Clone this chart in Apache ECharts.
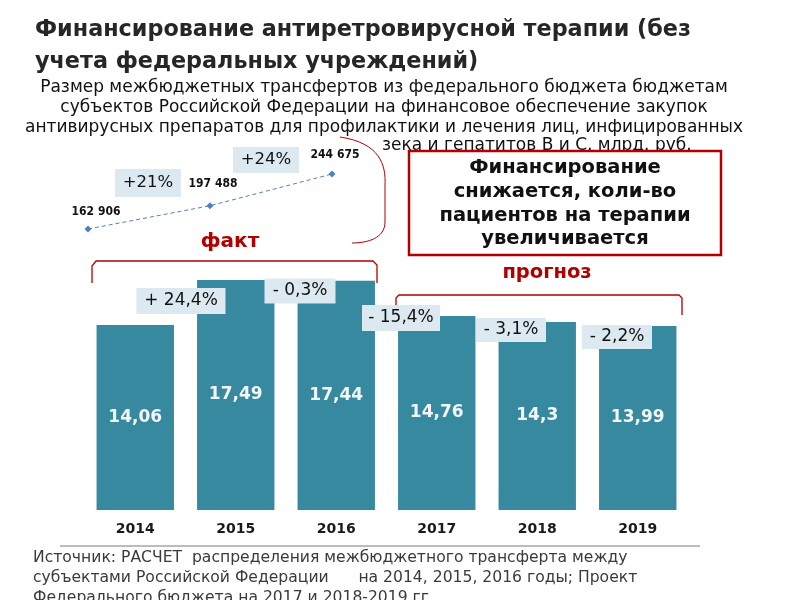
<!DOCTYPE html>
<html>
<head>
<meta charset="utf-8">
<script src="https://cdn.jsdelivr.net/npm/echarts@6/dist/echarts.min.js"></script>
<style>
  html, body { margin: 0; padding: 0; background: #fff; }
  #main { width: 800px; height: 600px; }
</style>
</head>
<body>
<div id="main"></div>
<script>
// data
var years = ['2014', '2015', '2016', '2017', '2018', '2019'];
var funding = [14.06, 17.49, 17.44, 14.76, 14.3, 13.99]; // млрд. руб.
var changeLabels = ['+ 24,4%', '- 0,3%', '- 15,4%', '- 3,1%', '- 2,2%'];
var patientYears = ['2014', '2015', '2016'];
var patients = [162906, 197488, 244675];
var patientGrowth = ['+21%', '+24%'];

var chart = echarts.init(document.getElementById('main'));

var RED = '#b00000';
var BOX = '#dce9f1';

function comma(v) {
  return String(v).replace('.', ',');
}
function spaced(v) {
  return String(v).replace(/\B(?=(\d{3})+(?!\d))/g, ' ');
}

// small blue boxes with the % change
function box(cx, cy, w, h, txt, size) {
  return {
    type: 'group', z: 100,
    children: [
      { type: 'rect', z: 100, shape: { x: cx - w / 2, y: cy - h / 2, width: w, height: h }, style: { fill: BOX } },
      {
        type: 'text', z: 101, x: cx, y: cy,
        style: { text: txt, fill: '#111', align: 'center', verticalAlign: 'middle',
          font: size + 'px "DejaVu Sans"' }
      }
    ]
  };
}

function txt(x, y, s, font, color, align) {
  return {
    type: 'text', x: x, y: y, z: 100,
    style: { text: s, font: font, fill: color || '#222', align: align || 'left', verticalAlign: 'middle' }
  };
}

var titleFont = 'bold 22.3px "DejaVu Sans"';
var subFont = '17px "DejaVu Sans"';
var srcFont = '15.6px "DejaVu Sans"';
var boxFont = 'bold 19.5px "DejaVu Sans"';

var graphics = [
  txt(35, 30, 'Финансирование антиретровирусной терапии (без', titleFont, '#262626'),
  txt(35, 62, 'учета федеральных учреждений)', titleFont, '#262626'),
  txt(384, 88, 'Размер межбюджетных трансфертов из федерального бюджета бюджетам', subFont, '#111', 'center'),
  txt(384, 108, 'субъектов Российской Федерации на финансовое обеспечение закупок', subFont, '#111', 'center'),
  txt(384, 128, 'антивирусных препаратов для профилактики и лечения лиц, инфицированных', subFont, '#111', 'center'),
  txt(382, 146, 'зека и гепатитов В и С, млрд. руб.', subFont, '#111'),

  // box with note
  { type: 'rect', z: 100, shape: { x: 409, y: 151, width: 312, height: 104 },
    style: { fill: '#fff', stroke: RED, lineWidth: 2.5 } },
  txt(565, 168, 'Финансирование', boxFont, '#111', 'center'),
  txt(565, 192, 'снижается, коли-во', boxFont, '#111', 'center'),
  txt(565, 216, 'пациентов на терапии', boxFont, '#111', 'center'),
  txt(565, 239, 'увеличивается', boxFont, '#111', 'center'),

  // brackets
  txt(230, 242, 'факт', 'bold 20px "DejaVu Sans"', RED, 'center'),
  { type: 'polyline', z: 100, shape: { points: [[92, 283], [92, 266], [96, 261], [373, 261], [377, 265], [377, 283]] },
    style: { stroke: RED, lineWidth: 1.3, fill: null } },
  txt(547, 273, 'прогноз', 'bold 19.5px "DejaVu Sans"', RED, 'center'),
  { type: 'polyline', z: 100, shape: { points: [[396, 305], [396, 298], [399, 295], [679, 295], [682, 298], [682, 315]] },
    style: { stroke: RED, lineWidth: 1.3, fill: null } },
  { type: 'bezierCurve', z: 100, shape: { x1: 340, y1: 137, cpx1: 380, cpy1: 143, cpx2: 386, cpy2: 165, x2: 385, y2: 185 },
    style: { stroke: RED, lineWidth: 1, fill: null } },
  { type: 'line', z: 100, shape: { x1: 385, y1: 185, x2: 385, y2: 222 }, style: { stroke: RED, lineWidth: 1 } },
  { type: 'bezierCurve', z: 100, shape: { x1: 385, y1: 222, cpx1: 385, cpy1: 238, cpx2: 368, cpy2: 243, x2: 352, y2: 243 },
    style: { stroke: RED, lineWidth: 1, fill: null } },

  // growth boxes
  box(148, 183, 66, 28, patientGrowth[0], 16.5),
  box(266, 160, 66, 26, patientGrowth[1], 16.5),
  box(181, 301, 89, 26, changeLabels[0], 17),
  box(300, 291, 71, 25, changeLabels[1], 17),
  box(401, 318, 78, 26, changeLabels[2], 17),
  box(511, 330, 70, 24, changeLabels[3], 17),
  box(617, 337, 70, 24, changeLabels[4], 17),

  // baseline under year labels
  { type: 'line', z: 100, shape: { x1: 60, y1: 546, x2: 700, y2: 546 }, style: { stroke: '#a6a6a6', lineWidth: 1.5 } },

  // source
  txt(33, 558, 'Источник: РАСЧЕТ  распределения межбюджетного трансферта между', srcFont, '#3a3a3a'),
  txt(33, 578, 'субъектами Российской Федерации      на 2014, 2015, 2016 годы; Проект', srcFont, '#3a3a3a'),
  txt(33, 598, 'Федерального бюджета на 2017 и 2018-2019 гг.', srcFont, '#3a3a3a')
];

// point label nudges for the patient line
var labelOffsets = [[8, 0], [3, -4], [3, -2]];

var option = {
  animation: false,
  backgroundColor: '#fff',
  grid: [
    { left: 85, right: 112, top: 247, bottom: 90 },
    { left: 88, right: 468, top: 174, bottom: 371 }
  ],
  xAxis: [
    {
      type: 'category', gridIndex: 0, data: years,
      axisLine: { show: false }, axisTick: { show: false },
      axisLabel: { margin: 12, fontSize: 14, fontWeight: 'bold', color: '#1a1a1a', fontFamily: 'DejaVu Sans' }
    },
    { type: 'category', gridIndex: 1, data: patientYears, boundaryGap: false, show: false }
  ],
  yAxis: [
    { type: 'value', gridIndex: 0, min: 0, max: 20, show: false, splitLine: { show: false } },
    { type: 'value', gridIndex: 1, min: 162906, max: 244675, show: false, splitLine: { show: false } }
  ],
  series: [
    {
      type: 'bar', xAxisIndex: 0, yAxisIndex: 0, data: funding,
      barWidth: '77%', z: 1,
      itemStyle: { color: '#37899f' },
      label: {
        show: true, position: 'inside', color: '#f2f6f8',
        fontSize: 17, fontWeight: 'bold', fontFamily: 'DejaVu Sans',
        formatter: function (p) { return comma(p.value); }
      }
    },
    {
      type: 'line', xAxisIndex: 1, yAxisIndex: 1,
      data: patients.map(function (v, i) {
        return { value: v, label: { offset: labelOffsets[i] } };
      }),
      symbol: 'diamond', symbolSize: 7,
      lineStyle: { color: '#4f81bd', width: 1, type: [4, 3] },
      itemStyle: { color: '#4f81bd' },
      label: {
        show: true, position: 'top', distance: 8, color: '#111',
        fontSize: 12, fontWeight: 'bold', fontFamily: 'DejaVu Sans Condensed',
        formatter: function (p) { return spaced(p.value); }
      }
    }
  ],
  graphic: graphics
};

chart.setOption(option);
</script>
</body>
</html>
